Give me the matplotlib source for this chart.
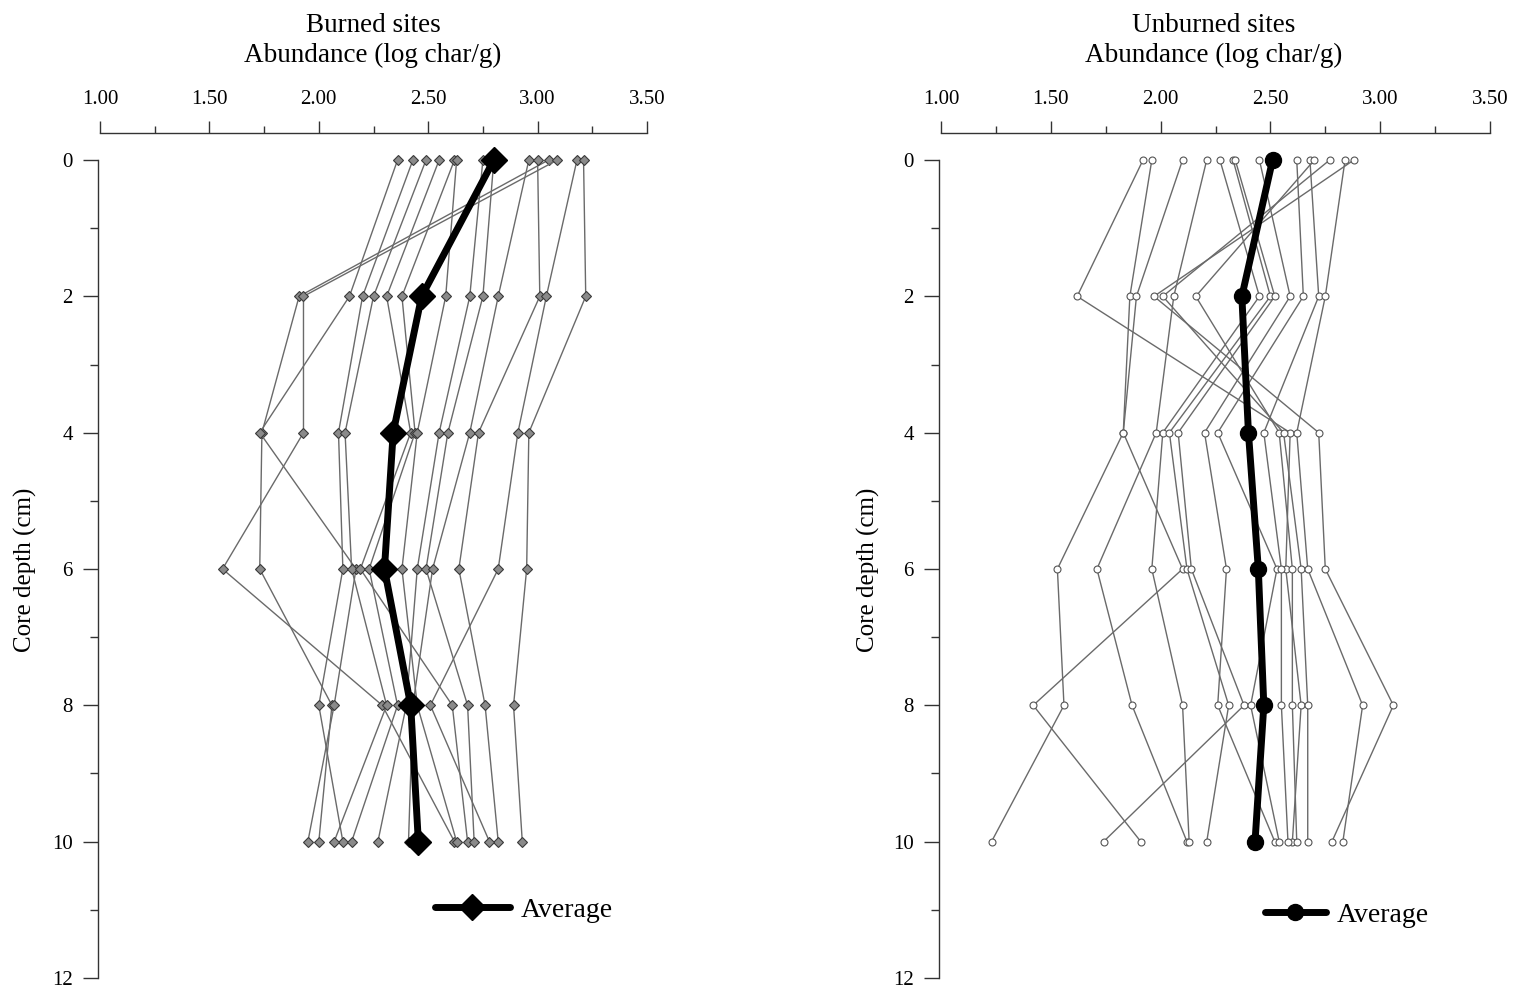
import numpy as np
import matplotlib
matplotlib.use("Agg")
import matplotlib.pyplot as plt
from matplotlib.ticker import MultipleLocator

depths = [0, 2, 4, 6, 8, 10]

# Burned sites: log char/g per site at each depth
burned_sites = [
    [3.05, 1.91, 1.74, 1.73, 2.06, 2.00],
    [3.09, 1.93, 1.93, 1.56, 2.29, 2.62],
    [2.36, 2.14, 1.73, 2.17, 2.07, 1.95],
    [2.43, 2.20, 2.09, 2.11, 2.00, 2.11],
    [2.49, 2.25, 2.12, 2.15, 2.31, 2.07],
    [2.55, 2.31, 2.42, 2.19, 2.61, 2.68],
    [2.62, 2.38, 2.44, 2.23, 2.36, 2.15],
    [2.63, 2.58, 2.45, 2.38, 2.45, 2.63],
    [2.75, 2.69, 2.55, 2.45, 2.40, 2.27],
    [2.80, 2.75, 2.59, 2.49, 2.68, 2.71],
    [2.96, 2.82, 2.69, 2.52, 2.43, 2.41],
    [3.00, 3.01, 2.73, 2.64, 2.76, 2.82],
    [3.18, 3.04, 2.91, 2.82, 2.51, 2.78],
    [3.21, 3.22, 2.96, 2.95, 2.89, 2.93],
]
burned_avg = [2.80, 2.47, 2.34, 2.30, 2.42, 2.455]

# Unburned sites
unburned_sites = [
    [1.92, 1.62, 2.59, 2.57, 2.64, 2.60],
    [1.96, 1.86, 1.83, 1.53, 1.56, 1.23],
    [2.10, 1.89, 1.83, 2.10, 1.42, 1.91],
    [2.21, 2.06, 1.98, 1.71, 1.87, 2.12],
    [2.27, 2.45, 2.01, 1.96, 2.10, 2.13],
    [2.33, 2.50, 2.04, 2.12, 2.31, 2.21],
    [2.34, 2.52, 2.08, 2.14, 2.38, 1.74],
    [2.45, 2.59, 2.20, 2.30, 2.26, 2.52],
    [2.62, 2.65, 2.26, 2.53, 2.41, 2.54],
    [2.68, 2.72, 2.47, 2.55, 2.55, 2.58],
    [2.70, 2.16, 2.54, 2.60, 2.60, 2.62],
    [2.77, 2.01, 2.56, 2.64, 2.67, 2.67],
    [2.84, 2.75, 2.62, 2.67, 2.92, 2.83],
    [2.88, 1.97, 2.72, 2.75, 3.06, 2.78],
]
unburned_avg = [2.51, 2.37, 2.40, 2.445, 2.47, 2.43]

x_ticks = [1.00, 1.50, 2.00, 2.50, 3.00, 3.50]
x_tick_labels = ["1.00", "1.50", "2.00", "2.50", "3.00", "3.50"]
y_ticks = [0, 2, 4, 6, 8, 10, 12]

panel_titles = ["Burned sites", "Unburned sites"]
x_label = "Abundance (log char/g)"
y_label = "Core depth (cm)"
legend_label = "Average"

FONT = ["Liberation Serif", "DejaVu Serif"]
plt.rcParams["font.family"] = FONT

W, H = 1516, 990
fig = plt.figure(figsize=(W / 100, H / 100), dpi=100)

def px_axes(x0, x1, ytop, ybot):
    return [x0 / W, 1 - ybot / H, (x1 - x0) / W, (ybot - ytop) / H]

ax1 = fig.add_axes(px_axes(100, 647, 160, 978))
ax2 = fig.add_axes(px_axes(941, 1490, 160, 978))

configs = [
    (ax1, burned_sites, burned_avg, "D", 4.6, 13, "#8a8a8a", "#3a3a3a", 373, 25, (0.612, 0.083), 2.7),
    (ax2, unburned_sites, unburned_avg, "o", 5.0, 11.5, "white", "#555555", 1214, 868, (0.590, 0.077), 2.2),
]

for i, (ax, sites, avg, mk, ms, ms_avg, mfc, mec, cx, ylx, legpos, hl) in enumerate(configs):
    for s in sites:
        ax.plot(s, depths, color="#6a6a6a", lw=1.0, marker=mk, ms=ms,
                mfc=mfc, mec=mec, mew=0.8, clip_on=False, zorder=2)
    ax.plot(avg, depths, color="black", lw=5, marker=mk, ms=ms_avg,
            mfc="black", mec="black", clip_on=False, zorder=5, label=legend_label,
            solid_joinstyle="round", solid_capstyle="round")

    ax.set_xlim(1.0, 3.5)
    ax.set_ylim(12, 0)
    ax.xaxis.set_ticks_position("top")
    ax.xaxis.set_label_position("top")
    ax.set_xticks(x_ticks)
    ax.set_xticklabels(x_tick_labels)
    ax.xaxis.set_minor_locator(MultipleLocator(0.25))
    ax.set_yticks(y_ticks)
    ax.set_yticklabels([str(t) for t in y_ticks])
    ax.yaxis.set_minor_locator(MultipleLocator(1))

    for side in ["right", "bottom"]:
        ax.spines[side].set_visible(False)
    ax.spines["top"].set_position(("outward", 19.5))
    ax.spines["left"].set_position(("outward", 1.5))
    for side in ["top", "left"]:
        ax.spines[side].set_color("#333333")
        ax.spines[side].set_linewidth(1.0)

    ax.tick_params(axis="x", which="major", direction="out", length=9, width=1,
                   color="#333333", pad=8, labelsize=15)
    ax.tick_params(axis="x", which="minor", direction="out", length=5, width=1,
                   color="#333333")
    ax.tick_params(axis="y", which="major", direction="out", length=11, width=1,
                   color="#333333", pad=7, labelsize=15)
    ax.tick_params(axis="y", which="minor", direction="out", length=6, width=1,
                   color="#333333")
    ax.patch.set_visible(False)

    fig.text(cx / W, 1 - 25 / H, panel_titles[i], ha="center", va="center", fontsize=19.5)
    fig.text(cx / W, 1 - 55 / H, x_label, ha="center", va="center", fontsize=19.5)
    fig.text(ylx / W, 1 - 570 / H, y_label, rotation=90, ha="center", va="center", fontsize=18)

    ax.legend(loc="center left", bbox_to_anchor=legpos, frameon=False,
              fontsize=20, handlelength=hl, borderpad=0, borderaxespad=0,
              handletextpad=0.4)

fig.savefig("out.png", dpi=100)
